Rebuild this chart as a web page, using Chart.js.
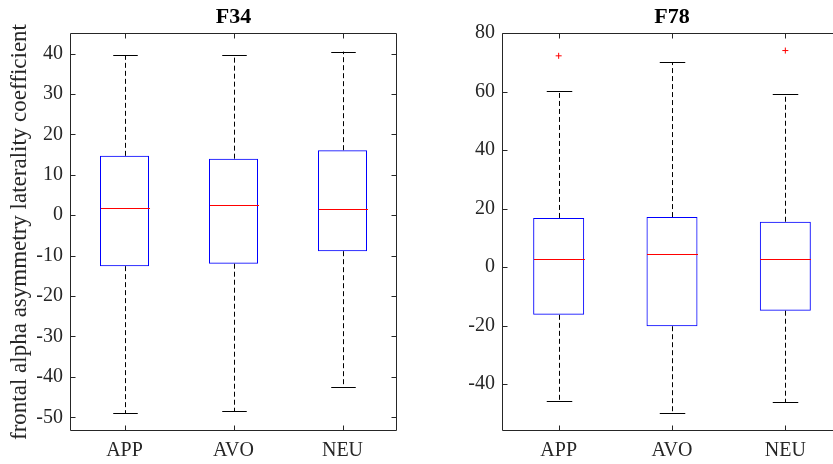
<!DOCTYPE html>
<html>
<head>
<meta charset="utf-8">
<script src="https://cdn.jsdelivr.net/npm/chart.js@4/dist/chart.umd.min.js"></script>
<style>
  html, body { margin: 0; padding: 0; background: #fff; overflow: hidden; }
  body { width: 833px; height: 464px; position: relative; }
  .panel { position: absolute; top: 0; height: 464px; }
  canvas { display: block; }
</style>
</head>
<body>
<div class="panel" style="left:0px; width:420px"><canvas id="f34" width="420" height="464"></canvas></div>
<div class="panel" style="left:420px; width:430px"><canvas id="f78" width="430" height="464"></canvas></div>
<script>
// conditions on the x axis
const categories = ['APP', 'AVO', 'NEU'];

// F34 box plot stats
const f34Q1 = [-12.6, -12.0, -8.9];
const f34Q3 = [14.7, 14.0, 16.1];
const f34Median = [1.7, 2.5, 1.5];
const f34Low = [-49.0, -48.5, -42.4];
const f34High = [39.6, 39.6, 40.5];
const f34Outliers = [null, null, null];

// F78 box plot stats
const f78Q1 = [-16.3, -20.2, -14.9];
const f78Q3 = [16.8, 17.1, 15.5];
const f78Median = [2.8, 4.6, 2.7];
const f78Low = [-45.6, -50.0, -46.1];
const f78High = [60.2, 70.0, 59.1];
const f78Outliers = [72.2, null, 74.0];

const axisColor = '#262626';
const serif = "'Liberation Serif', 'Times New Roman', serif";

// whiskers, caps, medians, inward ticks, box frame and the title
const boxPlotExtras = {
    id: 'boxPlotExtras',
    afterDatasetsDraw(chart, args, opts) {
        const ctx = chart.ctx;
        const x = chart.scales.x, y = chart.scales.y;
        const meta = chart.getDatasetMeta(0);
        ctx.save();
        opts.q1.forEach((q1, i) => {
            const cx = Math.round(x.getPixelForValue(i)) + 0.5;
            const half = meta.data[i].width / 2;
            const yq1 = y.getPixelForValue(q1);
            const yq3 = y.getPixelForValue(opts.q3[i]);
            const ylo = y.getPixelForValue(opts.low[i]);
            const yhi = y.getPixelForValue(opts.high[i]);
            ctx.lineWidth = 1;
            ctx.strokeStyle = '#000';
            ctx.setLineDash([5, 3]);
            ctx.beginPath();
            ctx.moveTo(cx, yq3); ctx.lineTo(cx, yhi);
            ctx.moveTo(cx, yq1); ctx.lineTo(cx, ylo);
            ctx.stroke();
            ctx.setLineDash([]);
            ctx.beginPath();
            ctx.moveTo(cx - half / 2, Math.round(yhi) + 0.5); ctx.lineTo(cx + half / 2, Math.round(yhi) + 0.5);
            ctx.moveTo(cx - half / 2, Math.round(ylo) + 0.5); ctx.lineTo(cx + half / 2, Math.round(ylo) + 0.5);
            ctx.stroke();
            const ym = Math.round(y.getPixelForValue(opts.median[i])) + 0.5;
            ctx.strokeStyle = '#ff0000';
            ctx.beginPath();
            ctx.moveTo(cx - half, ym); ctx.lineTo(cx + half, ym);
            ctx.stroke();
        });
        ctx.restore();
    },
    afterDraw(chart, args, opts) {
        const ctx = chart.ctx;
        const a = chart.chartArea;
        const x = chart.scales.x, y = chart.scales.y;
        const L = Math.round(a.left) + 0.5, R = Math.round(a.right) - 0.5;
        const T = Math.round(a.top) + 0.5, B = Math.round(a.bottom) - 0.5;
        const tl = 5;
        ctx.save();
        ctx.strokeStyle = axisColor;
        ctx.lineWidth = 1;
        ctx.beginPath();
        ctx.moveTo(L, T); ctx.lineTo(R, T);
        ctx.moveTo(L, T); ctx.lineTo(L, B);
        ctx.moveTo(L, B); ctx.lineTo(R, B);
        if (opts.rightBorder) { ctx.moveTo(R, T); ctx.lineTo(R, B); }
        y.ticks.forEach((t, i) => {
            const py = Math.round(y.getPixelForTick(i)) + 0.5;
            ctx.moveTo(L, py); ctx.lineTo(L + tl, py);
            if (opts.rightBorder) { ctx.moveTo(R, py); ctx.lineTo(R - tl, py); }
        });
        x.ticks.forEach((t, i) => {
            const px = Math.round(x.getPixelForValue(i)) + 0.5;
            ctx.moveTo(px, T); ctx.lineTo(px, T + tl);
            ctx.moveTo(px, B); ctx.lineTo(px, B - tl);
        });
        ctx.stroke();
        ctx.fillStyle = '#000';
        ctx.font = 'bold 22px ' + serif;
        ctx.textAlign = 'center';
        ctx.textBaseline = 'middle';
        ctx.fillText(opts.title, (a.left + a.right) / 2, 17);
        ctx.restore();
    }
};

function makeBoxChart(id, title, q1, q3, median, low, high, outliers, yMin, yMax, step, axisWidth, yTitle, rightPad, rightBorder) {
    const ctx = document.getElementById(id).getContext('2d');
    return new Chart(ctx, {
        data: {
            labels: categories,
            datasets: [{
                type: 'bar',
                data: q1.map((v, i) => [v, q3[i]]),
                backgroundColor: 'rgba(0,0,0,0)',
                borderColor: '#0000ff',
                borderWidth: 1,
                borderSkipped: false,
                barPercentage: 0.45,
                categoryPercentage: 1.0
            }, {
                type: 'line',
                data: outliers,
                showLine: false,
                pointStyle: 'cross',
                pointRadius: 3,
                pointBorderColor: '#ff0000',
                pointBorderWidth: 1
            }]
        },
        options: {
            responsive: false,
            animation: false,
            devicePixelRatio: 1,
            layout: { padding: { top: 33, right: rightPad, left: 0, bottom: 0 } },
            plugins: {
                legend: { display: false },
                tooltip: { enabled: false },
                title: { display: false },
                boxPlotExtras: { q1: q1, q3: q3, median: median, low: low, high: high, title: title, rightBorder: rightBorder }
            },
            scales: {
                x: {
                    offset: true,
                    grid: { display: false, drawTicks: false },
                    border: { display: false },
                    ticks: { color: axisColor, font: { family: serif, size: 20 }, padding: 8, maxRotation: 0 },
                    afterFit: s => { s.height = 33; }
                },
                y: {
                    min: yMin,
                    max: yMax,
                    grid: { display: false, drawTicks: false },
                    border: { display: false },
                    ticks: { stepSize: step, includeBounds: false, color: axisColor, font: { family: serif, size: 20 }, padding: 7 },
                    title: {
                        display: !!yTitle,
                        text: yTitle,
                        color: axisColor,
                        font: { family: serif, size: 23 },
                        padding: { top: 6, bottom: 0 }
                    },
                    afterFit: s => { s.width = axisWidth; }
                }
            }
        },
        plugins: [boxPlotExtras]
    });
}

makeBoxChart('f34', 'F34', f34Q1, f34Q3, f34Median, f34Low, f34High, f34Outliers,
    -53.4, 45.1, 10, 70, 'frontal alpha asymmetry laterality coefficient', 23, true);
// right panel runs past the window edge, like the cropped original
makeBoxChart('f78', 'F78', f78Q1, f78Q3, f78Median, f78Low, f78High, f78Outliers,
    -56, 80, 20, 82, '', 8, false);
</script>
</body>
</html>
